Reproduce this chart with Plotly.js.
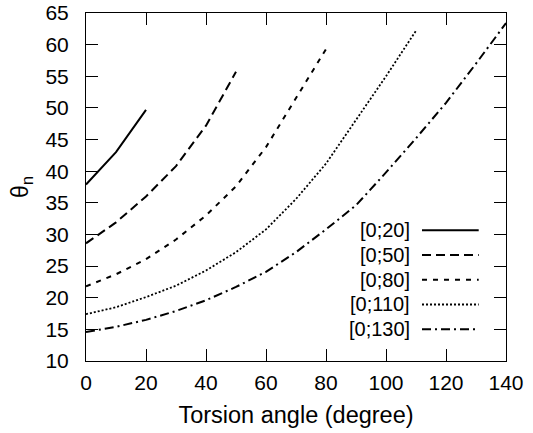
<!DOCTYPE html>
<html>
<head>
<meta charset="utf-8">
<script src="https://cdn.plot.ly/plotly-3.0.1.min.js"></script>
<style>html,body{margin:0;padding:0;background:#fff;}#chart{width:533px;height:433px;}</style>
</head>
<body>
<div id="chart"></div>
<script>
// Data
const seriesNames = ["[0;20]", "[0;50]", "[0;80]", "[0;110]", "[0;130]"];
const x20  = [0, 10, 20];
const y20  = [37.9, 43.0, 49.7];
const x50  = [0, 10, 20, 30, 40, 50];
const y50  = [28.6, 31.9, 36.0, 40.8, 47.2, 55.7];
const x80  = [0, 10, 20, 30, 40, 50, 60, 70, 80];
const y80  = [21.8, 23.7, 26.1, 29.2, 33.0, 37.6, 43.8, 51.5, 59.3];
const x110 = [0, 10, 20, 30, 40, 50, 60, 70, 80, 90, 100, 110];
const y110 = [17.4, 18.5, 20.1, 21.9, 24.3, 27.2, 30.8, 35.6, 41.2, 48.0, 55.0, 62.2];
const x130 = [0, 10, 20, 30, 40, 50, 60, 70, 80, 90, 100, 110, 120, 130, 140];
const y130 = [14.6, 15.4, 16.5, 17.9, 19.6, 21.7, 24.1, 27.2, 30.8, 34.6, 39.8, 45.2, 50.8, 57.0, 63.4];
const xTickVals = [0, 20, 40, 60, 80, 100, 120, 140];
const yTickVals = [10, 15, 20, 25, 30, 35, 40, 45, 50, 55, 60, 65];

const xs = [x20, x50, x80, x110, x130];
const ys = [y20, y50, y80, y110, y130];
const dashes = ["solid", "9px,5px", "5px,6px", "2px,2px", "9px,4px,2px,4px"];
const widths = [2, 2, 2, 1.8, 2];

const traces = seriesNames.map((n, i) => ({
  x: xs[i], y: ys[i], name: n, type: "scatter", mode: "lines",
  line: {color: "#000", width: widths[i], dash: dashes[i]},
  showlegend: false, hoverinfo: "skip"
}));

const FAM = "Liberation Sans, Arial, sans-serif";

// gnuplot-style key: text right-aligned, sample line to its right
const annotations = [];
const shapes = [];
const keyTop = 0.376;   // paper y of first entry
const keyStep = 0.0712;
seriesNames.forEach((n, i) => {
  const yy = keyTop - i * keyStep;
  annotations.push({
    xref: "paper", yref: "paper", x: 0.776, y: yy, xanchor: "right", yanchor: "middle",
    text: n, showarrow: false, font: {family: FAM, size: 20, color: "#000"}
  });
  shapes.push({
    type: "line", xref: "paper", yref: "paper", x0: 0.80, x1: 0.935, y0: yy, y1: yy,
    line: {color: "#000", width: widths[i], dash: dashes[i]}
  });
});

const tickFont = {family: FAM, size: 21, color: "#000"};
const layout = {
  width: 533, height: 433,
  margin: {l: 86, r: 27, t: 13, b: 72},
  paper_bgcolor: "#fff", plot_bgcolor: "#fff",
  font: tickFont,
  showlegend: false,
  xaxis: {
    range: [0, 140], tickvals: xTickVals, ticks: "inside", ticklen: 12, tickwidth: 1, tickcolor: "#000",
    showline: true, linecolor: "#000", linewidth: 1, mirror: "ticks", showgrid: false, zeroline: false,
    tickfont: tickFont, ticklabelstandoff: 3,
    title: {text: "Torsion angle (degree)", font: {family: FAM, size: 23.5, color: "#000"}, standoff: 13}
  },
  yaxis: {
    range: [10, 65], tickvals: yTickVals, ticks: "inside", ticklen: 12, tickwidth: 1, tickcolor: "#000",
    showline: true, linecolor: "#000", linewidth: 1, mirror: "ticks", showgrid: false, zeroline: false,
    tickfont: tickFont, ticklabelstandoff: 12,
    title: {text: "θ<sub>n</sub>", font: {family: FAM, size: 23, color: "#000"}, standoff: 10}
  },
  annotations: annotations,
  shapes: shapes
};

Plotly.newPlot("chart", traces, layout, {staticPlot: true, displayModeBar: false});
</script>
</body>
</html>
